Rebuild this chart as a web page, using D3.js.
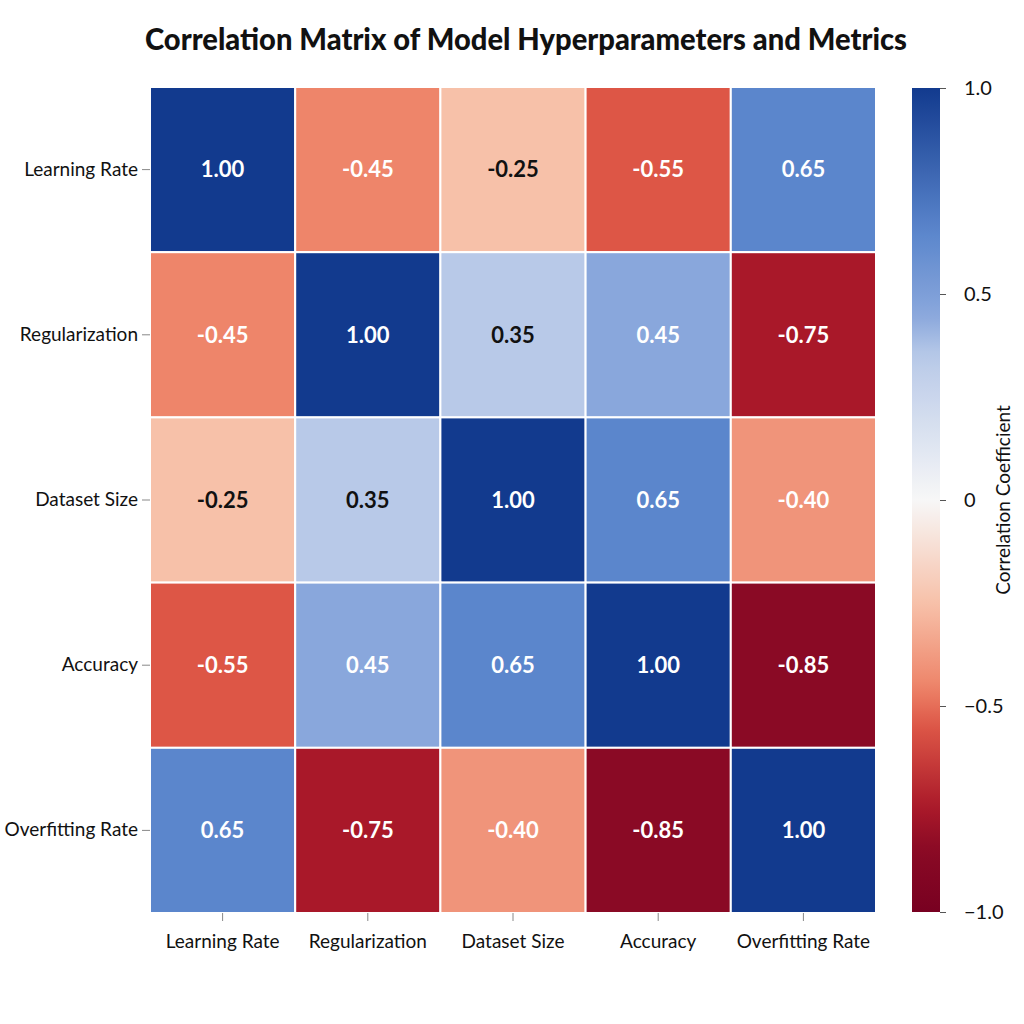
<!DOCTYPE html>
<html><head><meta charset="utf-8">
<script src="https://cdn.jsdelivr.net/npm/d3@7"></script>
<style>body{margin:0;background:#fff;} svg{display:block;font-family:Lato,"Open Sans",sans-serif;}</style>
</head><body>
<svg id="c" width="1024" height="1024"></svg>
<script>
const categories = ["Learning Rate","Regularization","Dataset Size","Accuracy","Overfitting Rate"];
const matrix = [
  [1.00,-0.45,-0.25,-0.55,0.65],
  [-0.45,1.00,0.35,0.45,-0.75],
  [-0.25,0.35,1.00,0.65,-0.40],
  [-0.55,0.45,0.65,1.00,-0.85],
  [0.65,-0.75,-0.40,-0.85,1.00]
];
const colorStops = [-1,-0.85,-0.75,-0.55,-0.45,-0.25,0,0.35,0.45,0.65,1];
const colorValues = ["#780021","#8a0a25","#a91829","#dd5646","#ee856a","#f7c1a9","#f7f7f7","#b8c9e8","#89a7dc","#5b86cc","#123a8e"];
const cbTicks = [1.0,0.5,0,-0.5,-1.0];

const svg = d3.select("#c");
const color = d3.scaleLinear().domain(colorStops).range(colorValues).interpolate(d3.interpolateRgb).clamp(true);

const L=150,R=876,T=87,B=913;
const x = d3.scaleBand().domain(categories).range([L,R]).padding(0);
const y = d3.scaleBand().domain(categories).range([T,B]).padding(0);

svg.append("text").attr("x",526).attr("y",50).attr("text-anchor","middle")
  .attr("font-size",30).attr("font-weight",900).attr("fill","#111")
  .attr("textLength",762).attr("lengthAdjust","spacingAndGlyphs")
  .text("Correlation Matrix of Model Hyperparameters and Metrics");

const cells=[];
matrix.forEach((row,i)=>row.forEach((v,j)=>cells.push({r:categories[i],c:categories[j],v})));
const g=svg.append("g");
g.selectAll("rect").data(cells).join("rect")
  .attr("x",d=>x(d.c)).attr("y",d=>y(d.r))
  .attr("width",x.bandwidth()).attr("height",y.bandwidth())
  .attr("fill",d=>color(d.v)).attr("stroke","#fff").attr("stroke-width",2);
g.selectAll("text").data(cells).join("text")
  .attr("x",d=>x(d.c)+x.bandwidth()/2).attr("y",d=>y(d.r)+y.bandwidth()/2)
  .attr("dy","0.35em").attr("text-anchor","middle").attr("font-size",22).attr("font-weight",700)
  .attr("fill",d=>Math.abs(d.v)>=0.4?"#fff":"#111")
  .text(d=>d.v.toFixed(2));

const xa=svg.append("g").attr("transform",`translate(0,${B})`)
  .call(d3.axisBottom(x).tickSize(8).tickPadding(14));
const ya=svg.append("g").attr("transform",`translate(${L},0)`)
  .call(d3.axisLeft(y).tickSize(8).tickPadding(4));
[xa,ya].forEach(a=>{a.select(".domain").remove();
  a.selectAll(".tick line").attr("stroke","#888");
  a.selectAll("text").attr("font-size",19).attr("fill","#111").attr("font-family","Lato,'Open Sans',sans-serif");});

// colorbar
const cbX=912,cbW=28;
const cy=d3.scaleLinear().domain([-1,1]).range([B-1,T+1]);
const defs=svg.append("defs");
const grad=defs.append("linearGradient").attr("id","cb").attr("x1",0).attr("y1",1).attr("x2",0).attr("y2",0);
d3.range(0,1.0001,0.02).forEach(t=>grad.append("stop").attr("offset",t).attr("stop-color",color(-1+2*t)));
svg.append("rect").attr("x",cbX).attr("y",cy(1)).attr("width",cbW).attr("height",cy(-1)-cy(1)).attr("fill","url(#cb)");
const ca=svg.append("g").attr("transform",`translate(${cbX+cbW},0)`)
  .call(d3.axisRight(cy).tickValues(cbTicks).tickSize(6).tickPadding(18)
    .tickFormat(d=>d===0?"0":d3.format(".1f")(d).replace("-","\u2212")));
ca.select(".domain").remove();
ca.selectAll(".tick line").attr("stroke","#555");
ca.selectAll("text").attr("font-size",20).attr("fill","#111").attr("font-family","Lato,'Open Sans',sans-serif");

svg.append("text").attr("transform",`translate(1010,${(T+B)/2}) rotate(-90)`)
  .attr("text-anchor","middle").attr("font-size",19).attr("fill","#111")
  .text("Correlation Coefficient");
</script>
</body></html>
